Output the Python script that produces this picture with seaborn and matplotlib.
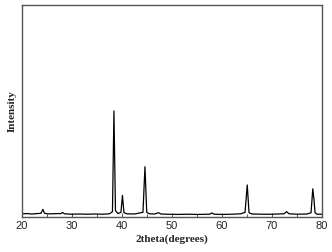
import matplotlib
matplotlib.use("Agg")
import matplotlib.pyplot as plt
import seaborn as sns
import pandas as pd
from matplotlib.ticker import MultipleLocator

two_theta = [20, 21, 22, 23, 23.8, 24.2, 24.5, 25, 26, 27, 27.8, 28.1, 28.5, 30,
             31.5, 33, 34.5, 36, 37.5, 38.1, 38.4, 38.7, 39.2, 39.8, 40.1, 40.4,
             41, 42.5, 44.2, 44.6, 44.95, 45.5, 46.5, 47.3, 47.8, 49, 51, 53, 55,
             57.5, 58.0, 58.4, 60, 62, 63.8, 64.2, 64.6, 65.05, 65.4, 66, 68, 70,
             72.4, 72.9, 73.4, 75, 77, 77.8, 78.15, 78.4, 78.6, 79, 80]
intensity = [1.5, 1.6, 1.4, 1.6, 1.7, 3.6, 1.8, 1.5, 1.5, 1.6, 1.6, 2.1, 1.5, 1.3,
             1.4, 1.3, 1.4, 1.3, 1.5, 2.5, 50.0, 3.0, 1.6, 2.2, 10.2, 2.0,
             1.5, 1.4, 2.2, 23.7, 2.2, 1.5, 1.4, 2.0, 1.4, 1.3, 1.2, 1.3, 1.2,
             1.3, 1.9, 1.3, 1.2, 1.3, 1.5, 1.9, 2.1, 15.1, 2.0, 1.4, 1.3, 1.3,
             1.5, 2.5, 1.5, 1.3, 1.4, 2.0, 13.3, 8.0, 2.0, 1.3, 1.3]

x_ticks = [20, 30, 40, 50, 60, 70, 80]

df = pd.DataFrame({"2theta": two_theta, "Intensity": intensity})

sns.set_style("white")
fig, ax = plt.subplots(figsize=(3.32, 2.52), dpi=100)
fig.subplots_adjust(left=0.066, right=0.970, top=0.980, bottom=0.139)

sns.lineplot(data=df, x="2theta", y="Intensity", ax=ax, color="black",
             linewidth=0.9, estimator=None, sort=False)

ax.set_xlim(20, 80)
ax.set_ylim(0, 100)
ax.set_xticks(x_ticks)
ax.set_xticklabels([str(t) for t in x_ticks], family="Liberation Sans", fontsize=8)
ax.xaxis.set_minor_locator(MultipleLocator(5))
ax.tick_params(axis="x", which="major", direction="in", length=3, width=0.7,
               color="#555555", bottom=True, pad=3)
ax.tick_params(axis="x", which="minor", direction="in", length=2, width=0.7,
               color="#555555", bottom=True)
ax.set_yticks([])

for sp in ax.spines.values():
    sp.set_color("#555555")
    sp.set_linewidth(1.0)

ax.set_xlabel("2theta(degrees)", family="Liberation Serif", fontweight="bold",
              fontsize=8, labelpad=2)
ax.set_ylabel("Intensity", family="Liberation Serif", fontweight="bold",
              fontsize=8, labelpad=4)

fig.savefig("out.png", dpi=100)
